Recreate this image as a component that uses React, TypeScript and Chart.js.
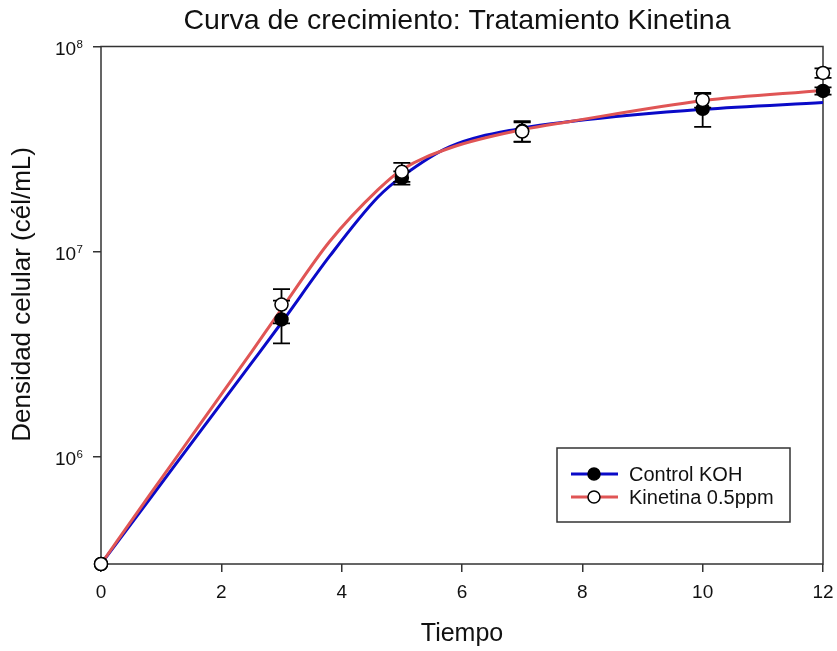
import { useEffect, useRef } from "react";
import { Chart, registerables } from "chart.js";

Chart.register(...registerables);

// Measured data (time in days, density in cells/mL)
const times = [0, 3, 5, 7, 10, 12];
const controlMean = [3.0e5, 4.67e6, 2.29e7, 3.88e7, 4.97e7, 6.07e7];
const controlErr = [0, 1.1e6, 1.7e6, 4.4e6, 9.1e6, 2.5e6];
const kinMean = [3.0e5, 5.52e6, 2.45e7, 3.85e7, 5.49e7, 7.43e7];
const kinErr = [0, 1.05e6, 2.6e6, 4.2e6, 4.5e6, 4.0e6];

// Fitted curves
const fitTimes = [0, 0.8, 1.65, 2.5, 3, 3.8, 4.6, 5, 5.8, 7, 7.8, 10, 12];
const controlFit = [3.0e5, 6.17e5, 1.33e6, 2.86e6, 4.5e6, 9.5e6, 1.84e7, 2.32e7, 3.25e7, 4.0e7, 4.31e7, 4.94e7, 5.33e7];
const kinFit = [3.0e5, 6.46e5, 1.445e6, 3.24e6, 5.25e6, 1.12e7, 2.0e7, 2.51e7, 3.2e7, 3.93e7, 4.31e7, 5.44e7, 6.1e7];

const xTicks = [0, 2, 4, 6, 8, 10, 12];
const yTicks = [1e6, 1e7, 1e8];
const yTickBase = "10";
const yTickExponents = ["6", "7", "8"];

const seriesNames = ["Control KOH", "Kinetina 0.5ppm"];
const titleText = "Curva de crecimiento: Tratamiento Kinetina";
const xTitle = "Tiempo";
const yTitle = "Densidad celular (cél/mL)";

const BLUE = "#0a0ac8";
const RED = "#e05555";
const AXIS = "#333333";
const TEXT = "#111111";
const FONT = "'Liberation Sans', Arial, sans-serif";

const pts = (xs: number[], ys: number[]) => xs.map((x, i) => ({ x, y: ys[i] }));

export default function App() {
  const ref = useRef<HTMLCanvasElement | null>(null);

  useEffect(() => {
    document.body.style.margin = "0";
    const canvas = ref.current;
    if (!canvas) return;

    const errorBars = {
      id: "errorBars",
      beforeDatasetDraw(chart: any, args: any) {
        const ds = chart.data.datasets[args.index];
        const errs: number[] | undefined = ds.errors;
        if (!errs) return;
        const { ctx, scales } = chart;
        const xs = scales.x;
        const ys = scales.y;
        ctx.save();
        ctx.strokeStyle = "#000";
        ctx.lineWidth = 1.8;
        ds.data.forEach((p: any, i: number) => {
          const e = errs[i];
          if (!e) return;
          const px = xs.getPixelForValue(p.x);
          const top = ys.getPixelForValue(p.y + e);
          const bot = ys.getPixelForValue(p.y - e);
          ctx.beginPath();
          ctx.moveTo(px, top);
          ctx.lineTo(px, bot);
          ctx.moveTo(px - 8.5, top);
          ctx.lineTo(px + 8.5, top);
          ctx.moveTo(px - 8.5, bot);
          ctx.lineTo(px + 8.5, bot);
          ctx.stroke();
        });
        ctx.restore();
      },
    };

    const frameAndText = {
      id: "frameAndText",
      beforeDatasetsDraw(chart: any) {
        const { ctx, chartArea, scales } = chart;
        ctx.save();
        ctx.strokeStyle = AXIS;
        ctx.lineWidth = 1.5;
        ctx.strokeRect(chartArea.left, chartArea.top, chartArea.right - chartArea.left, chartArea.bottom - chartArea.top);

        // title, centred on the plot area
        ctx.fillStyle = TEXT;
        ctx.font = `28.5px ${FONT}`;
        ctx.textAlign = "center";
        ctx.textBaseline = "middle";
        ctx.fillText(titleText, (chartArea.left + chartArea.right) / 2 - 5, 21);

        // y tick labels with superscript exponents
        const ys = scales.y;
        ctx.textAlign = "left";
        ctx.textBaseline = "alphabetic";
        yTicks.forEach((v, i) => {
          const py = ys.getPixelForValue(v);
          ctx.font = `11.5px ${FONT}`;
          const expW = ctx.measureText(yTickExponents[i]).width;
          ctx.font = `19px ${FONT}`;
          const baseW = ctx.measureText(yTickBase).width;
          const right = chartArea.left - 18;
          const expX = right - expW;
          const baseX = expX - 0.5 - baseW;
          ctx.fillText(yTickBase, baseX, py + 8.5);
          ctx.font = `11.5px ${FONT}`;
          ctx.fillText(yTickExponents[i], expX, py + 1);
        });
        ctx.restore();
      },
    };

    const legendBox = {
      id: "legendBox",
      afterDraw(chart: any) {
        const { ctx, chartArea } = chart;
        const left = chartArea.right - 266;
        const top = chartArea.bottom - 116;
        const w = 233;
        const h = 74;
        ctx.save();
        ctx.fillStyle = "#fff";
        ctx.fillRect(left, top, w, h);
        ctx.strokeStyle = AXIS;
        ctx.lineWidth = 1.5;
        ctx.strokeRect(left, top, w, h);
        const rows = [
          { name: seriesNames[0], color: BLUE, fill: "#000" },
          { name: seriesNames[1], color: RED, fill: "#fff" },
        ];
        rows.forEach((r, i) => {
          const y = top + 26 + i * 23;
          ctx.strokeStyle = r.color;
          ctx.lineWidth = 3;
          ctx.beginPath();
          ctx.moveTo(left + 14, y);
          ctx.lineTo(left + 61, y);
          ctx.stroke();
          ctx.beginPath();
          ctx.arc(left + 37, y, 6, 0, Math.PI * 2);
          ctx.fillStyle = r.fill;
          ctx.fill();
          ctx.strokeStyle = "#000";
          ctx.lineWidth = 1.5;
          ctx.stroke();
          ctx.fillStyle = TEXT;
          ctx.font = `20px ${FONT}`;
          ctx.textBaseline = "middle";
          ctx.textAlign = "left";
          ctx.fillText(r.name, left + 72, y + 1);
        });
        ctx.restore();
      },
    };

    const chart = new Chart(canvas, {
      type: "line",
      data: {
        datasets: [
          {
            label: seriesNames[1],
            data: pts(times, kinMean),
            errors: kinErr,
            showLine: false,
            pointRadius: 6.5,
            pointBackgroundColor: "#fff",
            pointBorderColor: "#000",
            pointBorderWidth: 1.5,
            clip: false,
          } as any,
          {
            label: seriesNames[0],
            data: pts(times, controlMean),
            errors: controlErr,
            showLine: false,
            pointRadius: 6.5,
            pointBackgroundColor: "#000",
            pointBorderColor: "#000",
            pointBorderWidth: 1.5,
            clip: false,
          } as any,
          {
            label: seriesNames[1] + " fit",
            data: pts(fitTimes, kinFit),
            borderColor: RED,
            borderWidth: 3,
            pointRadius: 0,
            cubicInterpolationMode: "monotone",
            fill: false,
          },
          {
            label: seriesNames[0] + " fit",
            data: pts(fitTimes, controlFit),
            borderColor: BLUE,
            borderWidth: 3,
            pointRadius: 0,
            cubicInterpolationMode: "monotone",
            fill: false,
          },
        ],
      },
      options: {
        animation: false,
        responsive: false,
        maintainAspectRatio: false,
        layout: { padding: { left: 0, right: 14, top: 46.5, bottom: 0 } },
        plugins: {
          legend: { display: false },
          tooltip: { enabled: false },
          title: { display: false },
        },
        scales: {
          x: {
            type: "linear",
            min: 0,
            max: 12,
            afterFit: (s: any) => {
              s.height = 87;
              s.paddingLeft = 0;
              s.paddingRight = 0;
            },
            afterBuildTicks: (s: any) => {
              s.ticks = xTicks.map((v) => ({ value: v }));
            },
            border: { display: false },
            grid: { drawOnChartArea: false, drawTicks: true, tickLength: 8, color: AXIS, lineWidth: 1.5 },
            ticks: { color: TEXT, font: { family: FONT, size: 19 }, padding: 9, maxRotation: 0 },
            title: {
              display: true,
              text: xTitle,
              color: TEXT,
              font: { family: FONT, size: 25, lineHeight: 1.2 },
              padding: { top: 0, bottom: 2 },
            },
          },
          y: {
            type: "logarithmic",
            min: 3e5,
            max: 1e8,
            afterFit: (s: any) => {
              s.width = 101;
              s.paddingTop = 0;
              s.paddingBottom = 0;
            },
            afterBuildTicks: (s: any) => {
              s.ticks = yTicks.map((v) => ({ value: v }));
            },
            border: { display: false },
            grid: { drawOnChartArea: false, drawTicks: true, tickLength: 8, color: AXIS, lineWidth: 1.5 },
            ticks: { display: false },
            title: {
              display: true,
              text: "   " + yTitle,
              color: TEXT,
              font: { family: FONT, size: 26, lineHeight: 1.2 },
              padding: { top: 7, bottom: 0 },
            },
          },
        },
      } as any,
      plugins: [frameAndText, errorBars, legendBox],
    });

    return () => chart.destroy();
  }, []);

  return (
    <div style={{ width: 837, height: 651, background: "#fff" }}>
      <canvas ref={ref} width={837} height={651} style={{ display: "block" }} />
    </div>
  );
}
